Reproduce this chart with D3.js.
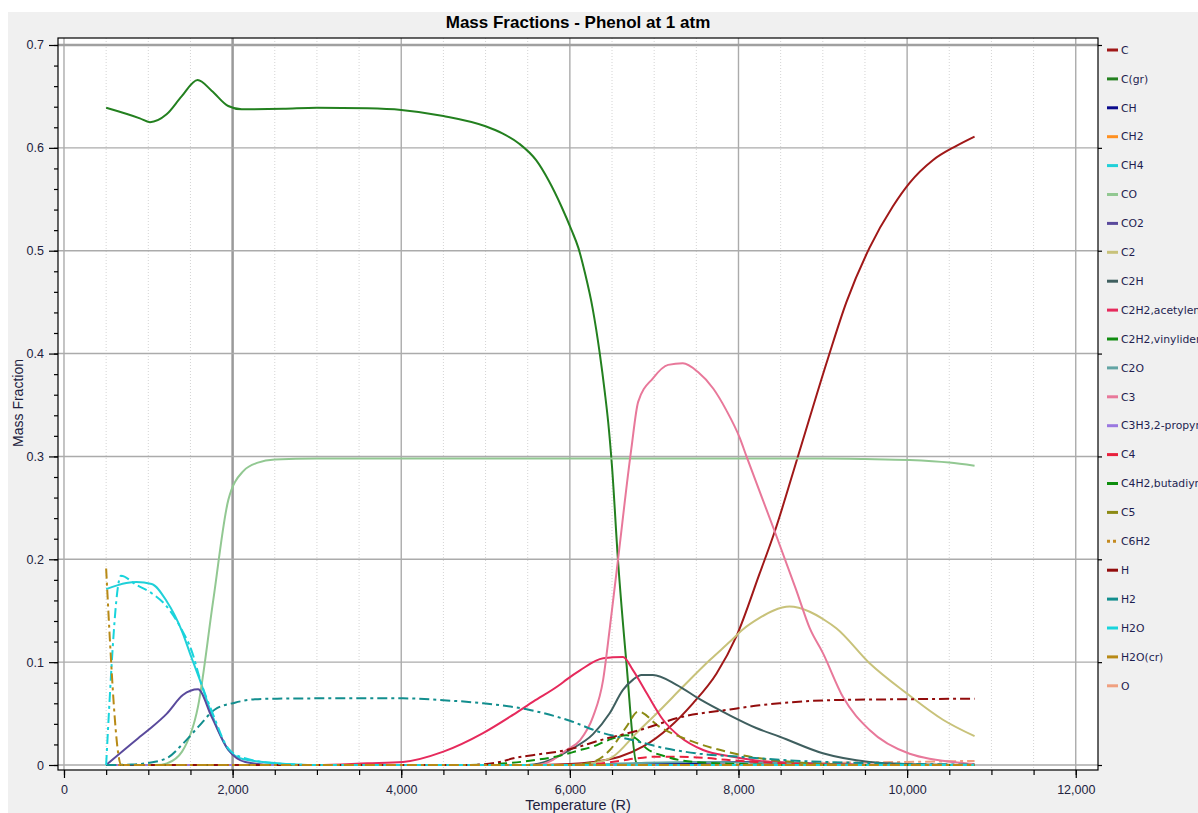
<!DOCTYPE html>
<html>
<head>
<meta charset="utf-8">
<script src="https://d3js.org/d3.v7.min.js"></script>
<style>
  body { margin: 0; background: #ffffff; }
  svg { display: block; }
</style>
</head>
<body>
<div id="chart"></div>
<script>
// species in legend order
const species = ["C", "C(gr)", "CH", "CH2", "CH4", "CO", "CO2", "C2", "C2H",
  "C2H2,acetylene", "C2H2,vinylidene", "C2O", "C3", "C3H3,2-propynl", "C4",
  "C4H2,butadiyne", "C5", "C6H2", "H", "H2", "H2O", "H2O(cr)", "O"];

// [temperature (R), mass fraction]
const massC = [[500,0],[5500,0],[6000,0.001],[6275,0.003],[6590,0.008],[6870,0.018],[7185,0.037],[7460,0.060],[7740,0.089],[7975,0.125],[8250,0.186],[8430,0.227],[8705,0.300],[9060,0.395],[9280,0.450],[9555,0.503],[9830,0.543],[10030,0.566],[10305,0.588],[10585,0.602],[10800,0.611]];
const massCgr = [[500,0.639],[900,0.6287],[1020,0.625],[1217,0.6326],[1395,0.650],[1585,0.666],[1751,0.6556],[1948,0.6407],[2107,0.6375],[2600,0.638],[3000,0.639],[3600,0.6384],[4000,0.6368],[4500,0.631],[5000,0.621],[5200,0.614],[5400,0.604],[5600,0.588],[5750,0.568],[5900,0.543],[6020,0.520],[6100,0.503],[6180,0.478],[6270,0.444],[6355,0.400],[6415,0.362],[6455,0.333],[6500,0.290],[6570,0.200],[6670,0.100],[6790,0.002],[6850,0],[10800,0]];
const massCH = [[500,0],[6500,0],[7000,0.001],[7500,0.002],[8000,0.003],[8400,0.0025],[9000,0.001],[9500,0],[10800,0]];
const massCH2 = [[500,0],[10800,0]];
const massCH4 = [[500,0.171],[740,0.177],[860,0.178],[1040,0.176],[1220,0.159],[1400,0.130],[1510,0.105],[1610,0.083],[1750,0.050],[1950,0.0146],[2130,0.0055],[2500,0.002],[3000,0],[10800,0]];
const massCO = [[500,0],[1100,0],[1220,0.0016],[1400,0.013],[1590,0.057],[1770,0.160],[1950,0.258],[2130,0.286],[2300,0.294],[2500,0.297],[3000,0.298],[9000,0.298],[9500,0.2975],[10030,0.2965],[10500,0.294],[10800,0.291]];
const massCO2 = [[500,0],[880,0.026],[1000,0.034],[1220,0.050],[1410,0.068],[1590,0.0736],[1750,0.047],[1950,0.0146],[2150,0.003],[2500,0],[10800,0]];
const massC2 = [[500,0],[6000,0],[6275,0.002],[6510,0.008],[6790,0.031],[7065,0.053],[7340,0.076],[7660,0.102],[7900,0.120],[8055,0.132],[8250,0.143],[8410,0.150],[8605,0.154],[8845,0.149],[9020,0.141],[9160,0.133],[9555,0.099],[9990,0.070],[10425,0.044],[10800,0.028]];
const massC2H = [[500,0],[5500,0],[5800,0.006],[6000,0.0146],[6275,0.030],[6470,0.050],[6630,0.073],[6750,0.083],[6850,0.0875],[6985,0.0875],[7265,0.078],[7540,0.064],[7880,0.049],[8210,0.036],[8490,0.0275],[9000,0.0114],[9555,0.003],[10000,0.001],[10800,0]];
const massC2H2a = [[500,0],[3000,0],[3600,0.0017],[4020,0.003],[4500,0.013],[4970,0.031],[5330,0.049],[5565,0.0616],[5880,0.078],[5960,0.083],[6120,0.092],[6395,0.1037],[6630,0.105],[6750,0.092],[6910,0.070],[7105,0.044],[7305,0.0275],[7580,0.0146],[7935,0.008],[8250,0.004],[9000,0.001],[10000,0],[10800,0]];
const massC2H2v = [[500,0],[10800,0]];
const massC2O = [[500,0],[6000,0],[6800,0.002],[7500,0.003],[8500,0.002],[9500,0],[10800,0]];
const massC3 = [[500,0],[5600,0],[5800,0.005],[5960,0.0146],[6120,0.024],[6275,0.047],[6395,0.083],[6475,0.134],[6570,0.199],[6730,0.308],[6810,0.353],[6985,0.376],[7165,0.389],[7340,0.3905],[7520,0.382],[7700,0.366],[7855,0.345],[8015,0.318],[8095,0.300],[8430,0.227],[8685,0.170],[8845,0.133],[9000,0.109],[9240,0.066],[9555,0.034],[10030,0.011],[10660,0.002],[10800,0.001]];
const massC3H3 = [[500,0],[10800,0]];
const massC4 = [[500,0],[6000,0],[6300,0.001],[6600,0.004],[6790,0.0065],[7000,0.008],[7300,0.008],[7600,0.007],[7855,0.005],[8200,0.003],[8800,0.001],[9500,0],[10800,0]];
const massC4H2 = [[500,0],[4800,0],[5300,0.002],[5600,0.005],[5880,0.009],[6100,0.014],[6275,0.018],[6450,0.024],[6670,0.029],[6780,0.026],[6910,0.016],[7145,0.008],[7460,0.003],[8000,0.001],[8500,0],[10800,0]];
const massC5 = [[500,0],[6000,0],[6275,0.003],[6475,0.0146],[6670,0.037],[6810,0.052],[7065,0.037],[7460,0.0227],[7855,0.013],[8250,0.0065],[8800,0.002],[9500,0],[10800,0]];
const massC6H2 = [[500,0],[10800,0]];
const massH = [[500,0],[4800,0],[5170,0.003],[5330,0.0065],[5600,0.010],[5960,0.0146],[6400,0.025],[6830,0.034],[7340,0.047],[7900,0.054],[8250,0.058],[8490,0.060],[9080,0.063],[10030,0.064],[10800,0.0645]];
const massH2 = [[500,0],[800,0.0005],[1000,0.002],[1237,0.0075],[1414,0.021],[1592,0.037],[1790,0.054],[2027,0.0606],[2264,0.0639],[2500,0.0645],[3150,0.0648],[4020,0.0648],[4500,0.063],[4970,0.060],[5525,0.0535],[6000,0.043],[6355,0.032],[6750,0.024],[7145,0.016],[7540,0.011],[8014,0.008],[8500,0.005],[9000,0.003],[9500,0.002],[10000,0.001],[10800,0.0005]];
const massH2O = [[500,0],[676,0.184],[860,0.175],[1040,0.167],[1220,0.154],[1400,0.131],[1510,0.112],[1630,0.079],[1750,0.053],[1950,0.016],[2130,0.007],[2600,0.001],[3000,0],[10800,0]];
const massH2Ocr = [[500,0.191],[680,0],[10800,0]];
const massO = [[500,0],[7000,0],[8000,0.001],[9000,0.002],[10000,0.003],[10800,0.004]];

const seriesValues = [massC, massCgr, massCH, massCH2, massCH4, massCO, massCO2, massC2, massC2H,
  massC2H2a, massC2H2v, massC2O, massC3, massC3H3, massC4, massC4H2, massC5, massC6H2,
  massH, massH2, massH2O, massH2Ocr, massO];

const xMajorTicks = [0, 2000, 4000, 6000, 8000, 10000, 12000];
const yMajorTicks = [0, 0.1, 0.2, 0.3, 0.4, 0.5, 0.6, 0.7];

// styling
const colors = ["#a01818", "#23801f", "#0a0a8c", "#ff9020", "#20d0d8", "#92c892", "#5a4a9c", "#c8c27a", "#3f5f5f",
  "#e62a5c", "#108c10", "#62a4a4", "#e8789a", "#9a78e0", "#e8203c", "#0e8e0e", "#8c8a14", "#c48a20",
  "#920c0c", "#128e8e", "#18d4dc", "#b88a16", "#f0a080"];
const dashes = species.map((s, i) => {
  if (i === 14 || i === 15 || i === 16) return "9,5";
  if (i === 17) return "3,3";
  if (i >= 18) return "10,4,3,4";
  return null;
});

const width = 1198, height = 813;
const plotLeft = 58, plotRight = 1098, plotTop = 38, plotBottom = 770;

const svg = d3.select("#chart").append("svg")
  .attr("width", width)
  .attr("height", height)
  .style("font-family", "'Liberation Sans', Arial, sans-serif");

svg.append("rect").attr("x", 8).attr("y", 12).attr("width", width).attr("height", height).attr("fill", "#f0f0f0");

const x = d3.scaleLinear().domain([-71, 12264]).range([plotLeft, plotRight]);
const y = d3.scaleLinear().domain([-0.00486, 0.7068]).range([plotBottom, plotTop]);

svg.append("rect")
  .attr("x", plotLeft).attr("y", plotTop)
  .attr("width", plotRight - plotLeft).attr("height", plotBottom - plotTop)
  .attr("fill", "#ffffff");

// minor dotted vertical grid
svg.append("g").selectAll("line")
  .data(d3.range(500, 12001, 500).filter(v => v % 2000 !== 0))
  .join("line")
  .attr("x1", d => x(d)).attr("x2", d => x(d))
  .attr("y1", plotTop).attr("y2", plotBottom)
  .attr("stroke", "#d4d4d4").attr("stroke-width", 1).attr("stroke-dasharray", "1,2");

// major grid
svg.append("g").selectAll("line")
  .data(xMajorTicks)
  .join("line")
  .attr("x1", d => x(d)).attr("x2", d => x(d))
  .attr("y1", plotTop).attr("y2", plotBottom)
  .attr("stroke", d => d === 2000 ? "#9a9a9a" : "#ababab")
  .attr("stroke-width", d => d === 2000 ? 2.5 : 1.4);

svg.append("g").selectAll("line")
  .data(yMajorTicks)
  .join("line")
  .attr("x1", plotLeft).attr("x2", plotRight)
  .attr("y1", d => y(d)).attr("y2", d => y(d))
  .attr("stroke", d => d === 0.7 ? "#a0a0a0" : "#ababab")
  .attr("stroke-width", d => d === 0.7 ? 2.5 : 1.4);

// curves
const line = d3.line()
  .x(d => x(d[0]))
  .y(d => y(d[1]))
  .curve(d3.curveMonotoneX);

const drawOrder = [22].concat(d3.range(0, 22));
svg.append("g")
  .selectAll("path")
  .data(drawOrder)
  .join("path")
  .attr("d", i => line(seriesValues[i]))
  .attr("fill", "none")
  .attr("stroke", i => colors[i])
  .attr("stroke-width", 2)
  .attr("stroke-linejoin", "round")
  .attr("stroke-dasharray", i => dashes[i]);

// frame
svg.append("rect")
  .attr("x", plotLeft).attr("y", plotTop)
  .attr("width", plotRight - plotLeft).attr("height", plotBottom - plotTop)
  .attr("fill", "none").attr("stroke", "#000").attr("stroke-width", 1.2);

// axes
const labelColor = "#22223e";
svg.append("g")
  .attr("transform", `translate(0,${plotBottom})`)
  .call(d3.axisBottom(x).tickValues(xMajorTicks).tickFormat(d3.format(",")).tickSize(8).tickPadding(7));
svg.append("g")
  .attr("transform", `translate(0,${plotBottom})`)
  .call(d3.axisBottom(x).tickValues(d3.range(0, 12001, 500)).tickFormat("").tickSize(5));

svg.append("g")
  .attr("transform", `translate(${plotLeft},0)`)
  .call(d3.axisLeft(y).tickValues(yMajorTicks).tickFormat(d => d === 0 ? "0" : d3.format(".1f")(d)).tickSize(9).tickPadding(5));
svg.append("g")
  .attr("transform", `translate(${plotLeft},0)`)
  .call(d3.axisLeft(y).tickValues(d3.range(0, 36).map(i => i * 0.02)).tickFormat("").tickSize(4));
svg.append("g")
  .attr("transform", `translate(${plotRight},0)`)
  .call(d3.axisRight(y).tickValues(yMajorTicks).tickFormat("").tickSize(4));

svg.selectAll(".domain").remove();
svg.selectAll(".tick line").attr("stroke", "#000").attr("stroke-width", 1.2);
svg.selectAll(".tick text")
  .attr("fill", labelColor)
  .style("font-size", "12.5px")
  .style("font-family", "'Liberation Sans', Arial, sans-serif");

// titles
svg.append("text")
  .attr("x", (plotLeft + plotRight) / 2).attr("y", 28)
  .attr("text-anchor", "middle")
  .style("font-size", "17px").style("font-weight", "bold")
  .attr("fill", "#000")
  .text("Mass Fractions - Phenol at 1 atm");

svg.append("text")
  .attr("transform", `translate(23,403) rotate(-90)`)
  .attr("text-anchor", "middle")
  .style("font-size", "14px")
  .attr("fill", labelColor)
  .text("Mass Fraction");

svg.append("text")
  .attr("x", (plotLeft + plotRight) / 2).attr("y", 810)
  .attr("text-anchor", "middle")
  .style("font-size", "14.5px")
  .attr("fill", labelColor)
  .text("Temperature (R)");

// legend
const legend = svg.append("g");
const legendY = i => 50 + i * 28.9;
legend.selectAll("line")
  .data(species)
  .join("line")
  .attr("x1", 1107).attr("x2", 1118)
  .attr("y1", (d, i) => legendY(i)).attr("y2", (d, i) => legendY(i))
  .attr("stroke", (d, i) => colors[i])
  .attr("stroke-width", 3)
  .attr("stroke-dasharray", (d, i) => i === 17 ? "3,3" : null);
legend.selectAll("text")
  .data(species)
  .join("text")
  .attr("x", 1121)
  .attr("y", (d, i) => legendY(i))
  .attr("dy", "0.35em")
  .style("font-size", "10.8px")
  .style("font-family", "'DejaVu Sans', Verdana, sans-serif")
  .attr("fill", "#1e1e50")
  .text(d => d);
</script>
</body>
</html>
